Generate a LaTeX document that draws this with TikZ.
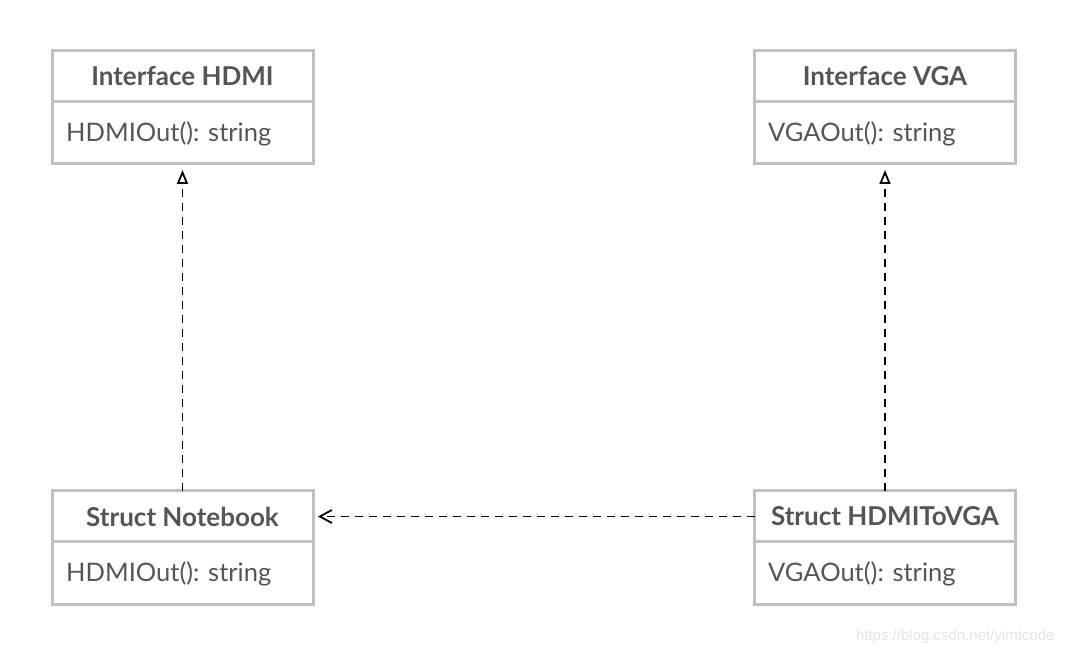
\documentclass[tikz,border=0pt]{standalone}
\usepackage{fontspec}
\setmainfont{Lato}
\newfontfamily\markfont{Liberation Sans}
\usetikzlibrary{arrows.meta,positioning}
\definecolor{ColBorder}{RGB}{192,192,192}
\definecolor{ColText}{RGB}{85,85,85}
\definecolor{ColMark}{RGB}{228,228,228}

\begin{document}
\begin{tikzpicture}[
  x=1pt, y=1pt,
  line cap=butt,
  line join=miter,
  title/.style={draw=ColBorder, line width=3pt, minimum width=261pt, minimum height=51pt,
    inner sep=0pt, outer sep=0pt, text=ColText, font=\fontsize{26}{30}\selectfont\bfseries},
  method/.style={draw=ColBorder, line width=3pt, minimum width=261pt, minimum height=62pt,
    inner sep=0pt, outer sep=0pt},
  optext/.style={text=ColText, font=\fontsize{25.5}{30}\selectfont, anchor=west, inner sep=2pt},
  realize/.style={draw=black, line width=1.8pt, dash pattern=on 8pt off 6pt,
    -{Triangle[open, length=14pt, width=11pt, line width=1.8pt]}, shorten >=6pt},
  depend/.style={draw=black, line width=1.8pt, dash pattern=on 8pt off 6pt,
    -{Straight Barb[length=12pt, width=13pt, line width=1.8pt]}, shorten >=5pt}
]
  \useasboundingbox (0,0) rectangle (1068,656);

  % Interfaces
  \node[title] (hdmi) at (182.5,579.5) {Interface HDMI};
  \node[method, below=0pt of hdmi] (hdmiop) {};
  \node[optext] (hdmiout) at (64,522) {HDMIOut(): string};

  \node[title] (vga) at (885,579.5) {Interface VGA};
  \node[method, below=0pt of vga] (vgaop) {};
  \node[optext] (vgaout) at (766,522) {VGAOut(): string};

  % Structs
  \node[title] (note) at (182.5,139.5) {Struct Notebook};
  \node[method, below=0pt of note] (noteop) {};
  \node[optext] (noteout) at (64,82) {HDMIOut(): string};

  \node[title] (conv) at (885,139.5) {Struct HDMIToVGA};
  \node[method, below=0pt of conv] (convop) {};
  \node[optext] (convout) at (766,82) {VGAOut(): string};

  % Relations
  \draw[realize] (note.north) -- (hdmiop.south);
  \draw[realize] (conv.north) -- (vgaop.south);
  \draw[depend] (conv.west) -- (note.east);

  \node[text=ColMark, font=\markfont\fontsize{15}{17}\selectfont, anchor=east] (watermark) at (1058,19) {https://blog.csdn.net/yimtcode};
\end{tikzpicture}
\end{document}
